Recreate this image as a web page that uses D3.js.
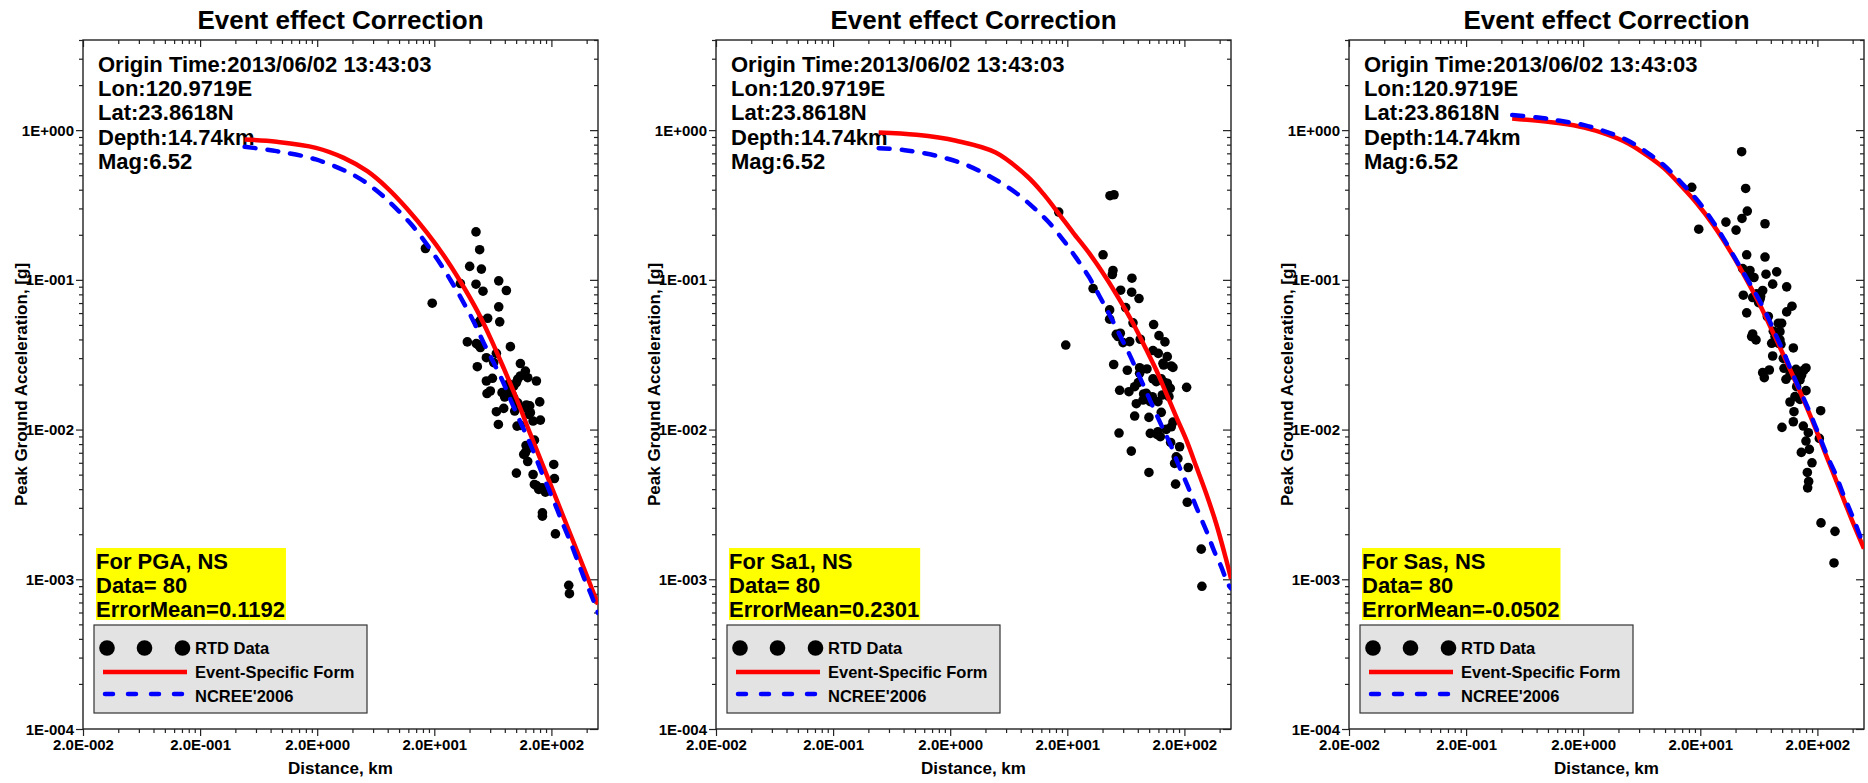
<!DOCTYPE html>
<html>
<head>
<meta charset="utf-8">
<script src="https://cdn.jsdelivr.net/npm/d3@7"></script>
<style>
  body { margin: 0; background: #fff; }
  svg { display: block; font-family: "Liberation Sans", Arial, sans-serif; font-weight: bold; }
</style>
</head>
<body>
<svg id="chart" width="1868" height="783"></svg>
<script>
// axis setup
const xDomain = [0.02, 500];
const yDomain = [1e-4, 4];
const xMajor = [0.02, 0.2, 2, 20, 200];
const xTickLabels = ['2.0E-002', '2.0E-001', '2.0E+000', '2.0E+001', '2.0E+002'];
const yMajor = [1e-4, 1e-3, 1e-2, 1e-1, 1];
const yTickLabels = ['1E-004', '1E-003', '1E-002', '1E-001', '1E+000'];

const chartTitle = 'Event effect Correction';
const xTitle = 'Distance, km';
const yTitle = 'Peak Ground Acceleration, [g]';
const eventInfo = ['Origin Time:2013/06/02 13:43:03', 'Lon:120.9719E', 'Lat:23.8618N', 'Depth:14.74km', 'Mag:6.52'];
const legendLabels = ['RTD Data', 'Event-Specific Form', "NCREE'2006"];

const periods = ['PGA', 'Sa1', 'Sas'];
const dataCounts = [80, 80, 80];
const errorMeans = ['0.1192', '0.2301', '-0.0502'];

// RTD data (distance km, acceleration g)
const pgaDist = [45.4, 48.8, 16.8, 40.1, 50.5, 19.2, 33.4, 45.4, 52.1, 71.0, 82.5, 71.0, 72.4, 57.1, 49.5, 38.3, 45.7, 49.5, 55.7, 67.8,
  64.3, 89.3, 46.6, 55.7, 62.7, 108.7, 119.9, 125.5, 148.9, 103.1, 95.3, 84.7, 79.8, 92.2, 56.4, 60.2, 103.1, 122.3, 130.6, 159,
  67.8, 78.3, 97.2, 132.3, 139.5, 161.1, 70.5, 101.8, 108.7, 143.2, 121.5, 119.9, 125.5, 209.5, 100.5, 139.5, 212.3, 148.9, 166.5, 177.7,
  167.6, 167.6, 216.5, 281.3, 285.1, 86.4, 89.3, 100.5, 108.7, 116.1, 128.1, 95.3, 75.8, 155.9, 143.2, 123.9, 116.1, 47.9, 47.9, 83.6];
const pgaAcc = [0.209, 0.159, 0.162, 0.123, 0.118, 0.0698, 0.0945, 0.0935, 0.084, 0.0985, 0.0849, 0.066, 0.0524, 0.0554, 0.0537, 0.0385, 0.0375, 0.0353, 0.0302, 0.0323,
  0.028, 0.0358, 0.0263, 0.0211, 0.022, 0.0276, 0.0246, 0.0222, 0.0211, 0.0217, 0.0195, 0.0183, 0.0165, 0.0172, 0.0174, 0.0181, 0.0151, 0.0146, 0.0144, 0.0153,
  0.01316, 0.01385, 0.0133, 0.01296, 0.0114, 0.01157, 0.01082, 0.01055, 0.01066, 0.0085, 0.00783, 0.007, 0.00612, 0.00585, 0.00512, 0.00501, 0.00471, 0.00423, 0.00408, 0.00382,
  0.00278, 0.00264, 0.00201, 0.000911, 0.000801, 0.0202, 0.0191, 0.0206, 0.0228, 0.014, 0.01263, 0.0163, 0.01764, 0.00398, 0.0043, 0.00737, 0.00682, 0.0367, 0.0518, 0.0172];

const sa1Dist = [16.9, 40.4, 49.1, 48.5, 71.3, 33.2, 57.1, 70.9, 81.9, 63.0, 46.0, 46.0, 72.8, 109.2, 19.4, 52.4, 56.7, 59.8, 68.2, 84.0,
  121.3, 136.4, 107.8, 119.7, 142.8, 131.2, 159.7, 49.8, 65.1, 82.9, 95.8, 107.8, 126.9, 142.8, 151.5, 208.9, 80.8, 56.0, 67.2, 89.7,
  106.4, 102.3, 118.9, 129.5, 147.6, 77.7, 126.9, 75.2, 99.6, 159.7, 140.1, 118.9, 102.3, 124.5, 55.3, 70.4, 152.5, 182.0, 170.4, 165.0,
  215.8, 99.6, 168.2, 211.6, 278.5, 282.2, 46.3, 50.1, 115.1, 135.6, 88.6, 154.5, 176.1, 82.9, 132.9, 154.5, 54.2, 116.6, 94.5, 75.2];
const sa1Acc = [0.2835, 0.147, 0.1155, 0.1086, 0.1026, 0.0875, 0.0853, 0.0827, 0.075, 0.0653, 0.063, 0.0546, 0.0516, 0.0503, 0.0367, 0.0433, 0.044, 0.0381, 0.0387, 0.0401,
  0.0424, 0.0385, 0.0337, 0.0323, 0.0307, 0.0277, 0.026, 0.0272, 0.0249, 0.0259, 0.0254, 0.0218, 0.0218, 0.0204, 0.01885, 0.01914, 0.0206, 0.0183, 0.0179, 0.01728,
  0.01658, 0.01536, 0.01536, 0.01702, 0.01658, 0.01489, 0.01303, 0.01231, 0.01206, 0.01122, 0.01003, 0.00967, 0.00943, 0.00896, 0.00948, 0.00718, 0.0082, 0.00768, 0.00658, 0.00594,
  0.00558, 0.00517, 0.00432, 0.00327, 0.00159, 0.000898, 0.3647, 0.3703, 0.0209, 0.0206, 0.01575, 0.01044, 0.00641, 0.02375, 0.027, 0.0266, 0.0418, 0.00928, 0.01745, 0.01934];

const sasDist = [45.1, 48.8, 16.9, 50.4, 45.4, 33.1, 19.4, 40.4, 71.4, 49.8, 71.4, 46.0, 53.1, 57.5, 72.8, 89.8, 83.0, 109.3, 68.2, 46.6,
  56.0, 63.0, 65.5, 121.3, 109.3, 49.8, 76.2, 92.8, 99.0, 84.1, 56.0, 54.9, 59.8, 81.4, 95.8, 97.7, 124.6, 83.0, 102.3, 68.2,
  77.7, 70.4, 103.7, 107.8, 131.3, 159.8, 146.7, 133.0, 159.8, 142.0, 116.7, 126.2, 124.6, 213.3, 99.7, 151.6, 167.3, 207.7, 159.8, 170.7,
  145.8, 179.8, 164.1, 168.4, 165.1, 214.7, 282.7, 277.2, 116.7, 137.4, 142.0, 95.8, 86.9, 64.7, 60.6, 74.7, 93.4, 53.1, 128.7, 153.6];
const sasAcc = [0.718, 0.408, 0.415, 0.288, 0.257, 0.243, 0.218, 0.215, 0.237, 0.147, 0.142, 0.119, 0.1155, 0.1037, 0.1091, 0.1131, 0.0936, 0.0898, 0.0849, 0.079,
  0.0762, 0.0705, 0.0774, 0.0667, 0.0611, 0.0602, 0.0569, 0.0513, 0.0513, 0.0454, 0.0435, 0.0418, 0.0397, 0.0377, 0.0397, 0.0371, 0.0351, 0.031, 0.0299, 0.024,
  0.025, 0.0222, 0.02566, 0.02166, 0.02527, 0.02579, 0.02315, 0.01934, 0.01819, 0.0159, 0.01528, 0.01316, 0.01128, 0.01337, 0.01034, 0.01056, 0.00953, 0.00873, 0.00838, 0.00737,
  0.00704, 0.006, 0.00517, 0.0045, 0.00408, 0.00238, 0.00209, 0.001286, 0.02315, 0.02375, 0.02144, 0.0451, 0.0418, 0.0743, 0.0806, 0.0569, 0.0377, 0.1053, 0.0166, 0.025];

// Event-specific form curves
const pgaFitDist = [0.48, 0.9, 1.95, 3.37, 5.36, 7.91, 11.65, 17.3, 24.0, 33.4, 46.3, 60.2, 78.3, 102, 132, 172, 224, 291, 378, 500];
const pgaFitAcc = [0.866, 0.836, 0.762, 0.653, 0.532, 0.412, 0.3, 0.207, 0.146, 0.0975, 0.0625, 0.041, 0.0257, 0.0157, 0.00935, 0.00558, 0.00333, 0.00199, 0.00119, 0.00068];
const sa1FitDist = [0.49, 1.03, 2.25, 4.89, 9.12, 12.5, 17.2, 22.4, 31.1, 43.1, 56.0, 72.8, 94.5, 115, 140, 170, 208, 253, 307, 374, 455, 500];
const sa1FitAcc = [0.965, 0.931, 0.849, 0.709, 0.49, 0.375, 0.272, 0.207, 0.149, 0.1026, 0.0735, 0.0513, 0.0342, 0.025, 0.01746, 0.01218, 0.0085, 0.00564, 0.00374, 0.00235, 0.00135, 0.00101];
const sasFitDist = [0.495, 1.27, 2.04, 3.15, 4.85, 7.18, 9.83, 13.6, 18.6, 25.8, 35.9, 49.8, 64.7, 84.1, 109, 142, 185, 240, 312, 405, 500];
const sasFitAcc = [1.197, 1.11, 1.04, 0.94, 0.815, 0.67, 0.555, 0.428, 0.326, 0.233, 0.1563, 0.1, 0.068, 0.044, 0.0284, 0.0179, 0.011, 0.00658, 0.00394, 0.00236, 0.0016];

// NCREE'2006 curves
const pgaNcreeDist = [0.48, 0.9, 1.95, 4.25, 6.77, 9.24, 12.7, 16.6, 22.5, 28.3, 34.5, 43.4, 52.1, 63.5, 75.8, 88.1, 105, 124, 143, 164, 190, 219, 252, 291, 332, 378, 437, 500];
const pgaNcreeAcc = [0.774, 0.724, 0.637, 0.493, 0.3815, 0.305, 0.235, 0.18, 0.128, 0.096, 0.0735, 0.0525, 0.0388, 0.0285, 0.0215, 0.0163, 0.0119, 0.00895, 0.00688, 0.00525, 0.00398, 0.00306, 0.00232, 0.00177, 0.00135, 0.00103, 0.00079, 0.000595];
const sa1NcreeDist = [0.49, 0.818, 1.52, 2.63, 4.53, 7.22, 10.65, 13.7, 18.4, 23.9, 30.7, 37.8, 46.0, 56.0, 67.2, 80.3, 94.5, 111, 131, 153, 176, 203, 233, 270, 311, 357, 413, 470, 500];
const sa1NcreeAcc = [0.758, 0.735, 0.674, 0.593, 0.483, 0.3835, 0.2967, 0.2455, 0.1851, 0.1396, 0.1042, 0.0774, 0.0583, 0.0429, 0.0323, 0.02375, 0.0179, 0.0135, 0.01018, 0.00787, 0.00594, 0.0046, 0.00355, 0.00268, 0.00207, 0.00156, 0.00121, 0.000935, 0.00087];
const sasNcreeDist = [0.495, 0.825, 1.27, 2.04, 3.15, 4.85, 7.18, 9.83, 13.86, 19.24, 25.0, 31.46, 39.56, 49.8, 61.4, 74.7, 86.9, 102.3, 119.0, 137.4, 161.9, 187.1, 217.5, 248, 288.4, 328.6, 379.7, 432.7, 500];
const sasNcreeAcc = [1.26, 1.215, 1.154, 1.08, 0.975, 0.849, 0.70, 0.58, 0.443, 0.334, 0.252, 0.19, 0.1396, 0.1026, 0.0774, 0.0574, 0.044, 0.0332, 0.025, 0.01934, 0.01458, 0.0111, 0.00829, 0.00642, 0.00496, 0.00378, 0.00289, 0.00224, 0.00165];

const zip = (a, b) => a.map((v, i) => [v, b[i]]);

const panels = [
  { left: 83, points: zip(pgaDist, pgaAcc), fit: zip(pgaFitDist, pgaFitAcc), ncree: zip(pgaNcreeDist, pgaNcreeAcc) },
  { left: 716, points: zip(sa1Dist, sa1Acc), fit: zip(sa1FitDist, sa1FitAcc), ncree: zip(sa1NcreeDist, sa1NcreeAcc) },
  { left: 1349, points: zip(sasDist, sasAcc), fit: zip(sasFitDist, sasFitAcc), ncree: zip(sasNcreeDist, sasNcreeAcc) }
];

const plotW = 515, plotH = 689, plotTop = 40;
const x = d3.scaleLog().domain(xDomain).range([0, plotW]);
const y = d3.scaleLog().domain(yDomain).range([plotH, 0]);

// minor ticks: 2..9 times each major step
const xMinor = [];
xMajor.forEach(m => { for (let k = 2; k <= 9; k++) if (m * k <= xDomain[1]) xMinor.push(m * k); });
const yMinor = [];
yMajor.forEach(m => { for (let k = 2; k <= 9; k++) if (m * k <= yDomain[1]) yMinor.push(m * k); });

const svg = d3.select('#chart');

const line = d3.line()
  .x(d => x(d[0]))
  .y(d => y(d[1]))
  .curve(d3.curveCatmullRom.alpha(0.5));

function drawAxis(g, axis) {
  g.call(axis);
  g.attr('font-family', null).attr('font-size', null);
  g.select('.domain').remove();
  g.selectAll('line').attr('stroke', '#222').attr('stroke-width', 1.2);
}

panels.forEach((p, i) => {
  const g = svg.append('g').attr('transform', `translate(${p.left},${plotTop})`);

  // title
  svg.append('text')
    .attr('x', p.left + plotW / 2).attr('y', 28.5)
    .attr('text-anchor', 'middle')
    .style('font-size', '26px')
    .text(chartTitle);

  // ticks, all four sides
  drawAxis(g.append('g').attr('transform', `translate(0,${plotH})`),
    d3.axisBottom(x).tickValues(xMinor).tickSize(4).tickFormat(''));
  drawAxis(g.append('g').attr('transform', `translate(0,${plotH})`),
    d3.axisBottom(x).tickValues(xMajor).tickSize(7).tickFormat((d, k) => xTickLabels[k]));
  drawAxis(g.append('g'), d3.axisTop(x).tickValues(xMinor).tickSize(-4).tickFormat(''));
  drawAxis(g.append('g'), d3.axisTop(x).tickValues(xMajor).tickSize(-7).tickFormat(''));
  drawAxis(g.append('g'), d3.axisLeft(y).tickValues(yMinor).tickSize(4).tickFormat(''));
  drawAxis(g.append('g'), d3.axisLeft(y).tickValues(yMajor).tickSize(7).tickFormat((d, k) => yTickLabels[k]));
  drawAxis(g.append('g').attr('transform', `translate(${plotW},0)`),
    d3.axisRight(y).tickValues(yMinor).tickSize(-4).tickFormat(''));
  drawAxis(g.append('g').attr('transform', `translate(${plotW},0)`),
    d3.axisRight(y).tickValues(yMajor).tickSize(-8).tickFormat(''));

  g.selectAll('.tick text').attr('fill', '#000').style('font-size', '15px');
  g.selectAll('.tick text').filter(function () { return this.textContent.startsWith('2.0'); })
    .attr('y', 21).attr('dy', 0);
  g.selectAll('.tick text').filter(function () { return this.textContent.startsWith('1E'); })
    .attr('x', -9).attr('dy', '0.34em');

  g.append('rect')
    .attr('width', plotW).attr('height', plotH)
    .attr('fill', 'none').attr('stroke', '#222').attr('stroke-width', 1.4);

  // axis titles
  svg.append('text')
    .attr('x', p.left + plotW / 2).attr('y', 774)
    .attr('text-anchor', 'middle')
    .style('font-size', '17px')
    .text(xTitle);
  svg.append('text')
    .attr('transform', `translate(${p.left - 56},${plotTop + plotH / 2}) rotate(-90)`)
    .attr('text-anchor', 'middle')
    .style('font-size', '17px')
    .text(yTitle);

  // clip for the curves
  const clipId = 'clip' + i;
  g.append('clipPath').attr('id', clipId)
    .append('rect').attr('width', plotW).attr('height', plotH);

  // event info text
  g.append('g').selectAll('text')
    .data(eventInfo)
    .join('text')
    .attr('x', 15)
    .attr('y', (d, k) => 32 + k * 24.2)
    .style('font-size', '22px')
    .text(d => d);

  // data points
  g.append('g').selectAll('circle')
    .data(p.points)
    .join('circle')
    .attr('cx', d => x(d[0]))
    .attr('cy', d => y(d[1]))
    .attr('r', 4.8)
    .attr('fill', '#000');

  g.append('path')
    .datum(p.fit)
    .attr('clip-path', `url(#${clipId})`)
    .attr('d', line)
    .attr('fill', 'none')
    .attr('stroke', '#ff0000')
    .attr('stroke-width', 4.5);

  g.append('path')
    .datum(p.ncree)
    .attr('clip-path', `url(#${clipId})`)
    .attr('d', line)
    .attr('fill', 'none')
    .attr('stroke', '#0000ff')
    .attr('stroke-width', 4.5)
    .attr('stroke-linecap', 'round')
    .attr('stroke-dasharray', '11,12');

  // yellow info box
  const boxLines = [`For ${periods[i]}, NS`, `Data= ${dataCounts[i]}`, `ErrorMean=${errorMeans[i]}`];
  const box = g.append('g').attr('transform', 'translate(13,508)');
  const boxRect = box.append('rect').attr('fill', '#ffff00');
  const boxText = box.selectAll('text')
    .data(boxLines)
    .join('text')
    .attr('x', 0)
    .attr('y', (d, k) => 21 + k * 24)
    .style('font-size', '22px')
    .text(d => d);
  let maxW = 0;
  boxText.each(function () { maxW = Math.max(maxW, this.getComputedTextLength()); });
  boxRect.attr('width', maxW + 1).attr('height', 72);

  // legend
  const leg = g.append('g').attr('transform', 'translate(11,585)');
  leg.append('rect')
    .attr('width', 273).attr('height', 88)
    .attr('fill', '#e3e3e3').attr('stroke', '#333').attr('stroke-width', 1.2);
  leg.selectAll('circle')
    .data([13, 50.5, 88.5])
    .join('circle')
    .attr('cx', d => d).attr('cy', 23).attr('r', 7.8).attr('fill', '#000');
  leg.append('line')
    .attr('x1', 9).attr('x2', 93).attr('y1', 47).attr('y2', 47)
    .attr('stroke', '#ff0000').attr('stroke-width', 4.5);
  leg.append('line')
    .attr('x1', 11).attr('x2', 93).attr('y1', 69).attr('y2', 69)
    .attr('stroke', '#0000ff').attr('stroke-width', 4.5)
    .attr('stroke-linecap', 'round').attr('stroke-dasharray', '8,15');
  leg.selectAll('text')
    .data(legendLabels)
    .join('text')
    .attr('x', 101)
    .attr('y', (d, k) => 29 + k * 24)
    .style('font-size', '16.5px')
    .text(d => d);
});
</script>
</body>
</html>
